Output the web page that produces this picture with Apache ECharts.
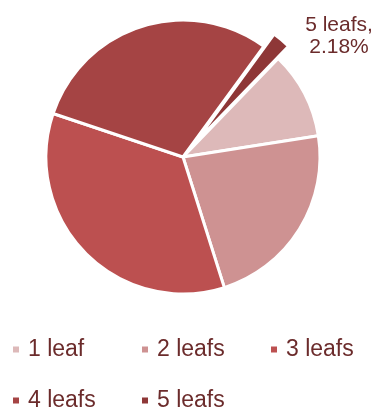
<!DOCTYPE html>
<html>
<head>
<meta charset="utf-8">
<script src="https://cdn.jsdelivr.net/npm/echarts@6/dist/echarts.min.js"></script>
<style>
  html, body { margin: 0; padding: 0; background: #fff; }
  #chart { width: 376px; height: 409px; }
</style>
</head>
<body>
<div id="chart"></div>
<script>
const categories = ['1 leaf', '2 leafs', '3 leafs', '4 leafs', '5 leafs']
const shares = [10.3, 22.6, 35.02, 29.9, 2.18]
const colors = ['#DDB9B9', '#CE9292', '#BC5050', '#A54444', '#8E3737']

const textColor = '#6B2B2B'
const font = 'Liberation Sans, Arial, sans-serif'
const last = categories.length - 1

// one legend per item so the columns line up like the original
const legends = categories.map((name, i) => ({
  data: [name],
  left: 11 + (i % 3) * 129,
  top: 338 + Math.floor(i / 3) * 51,
  padding: 0,
  icon: 'rect',
  itemWidth: 8,
  itemHeight: 8,
  textStyle: { fontSize: 23, color: textColor, fontFamily: font, padding: [0, 0, 0, 3] },
  selectedMode: false,
}))

const chart = echarts.init(document.getElementById('chart'))
chart.setOption({
  animation: false,
  color: colors,
  legend: legends,
  // data label of the exploded slice, up in the top right corner
  graphic: [{
    type: 'text',
    x: 339,
    y: 36,
    style: {
      text: categories[last] + ',\n' + shares[last].toFixed(2) + '%',
      fill: textColor,
      font: '21px ' + font,
      lineHeight: 22,
      align: 'center',
      verticalAlign: 'middle',
    },
  }],
  series: [{
    type: 'pie',
    center: [183, 157],
    radius: 137,
    startAngle: 46,
    clockwise: true,
    selectedMode: 'single',
    selectedOffset: 16,
    itemStyle: { borderColor: '#fff', borderWidth: 3 },
    label: { show: false },
    labelLine: { show: false },
    emphasis: { disabled: true },
    data: categories.map((name, i) => ({ name, value: shares[i], selected: i === last })),
  }],
})
</script>
</body>
</html>
